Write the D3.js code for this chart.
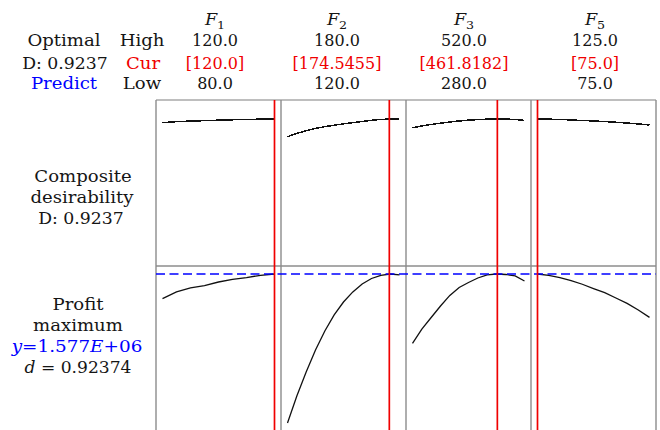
<!DOCTYPE html>
<html>
<head>
<meta charset="utf-8">
<script src="https://cdn.jsdelivr.net/npm/d3@7/dist/d3.min.js"></script>
<style>
  html, body { margin: 0; padding: 0; background: #fff; }
  svg { display: block; }
</style>
</head>
<body>
<svg id="chart" width="660" height="430"></svg>
<script>
// Factors and their settings
const factorNames = ["1", "2", "3", "5"];
const highs = [120.0, 180.0, 520.0, 125.0];
const lows = [80.0, 120.0, 280.0, 75.0];
const currents = [120.0, 174.5455, 461.8182, 75.0];

// Response summary
const compositeD = 0.9237;
const predictedY = 1577000;
const predictedLabel = "1.577";
const individualD = 0.92374;

// Factor levels used for the profile curves
const f1Levels = [80, 85, 90, 95, 100, 105, 110, 115, 120];
const f2Levels = [120, 125, 130, 135, 140, 145, 150, 155, 160, 165, 170, 175, 180];
const f3Levels = [280, 300, 320, 340, 360, 380, 400, 420, 440, 460, 480, 500, 520];
const f5Levels = [75, 80, 85, 90, 95, 100, 105, 110, 115, 120, 125];

// Composite desirability along each factor
const f1Desir = [0.8993, 0.9059, 0.9099, 0.9125, 0.9158, 0.9185, 0.9204, 0.9224, 0.9237];
const f2Desir = [0.8069, 0.8281, 0.8459, 0.8617, 0.8729, 0.8828, 0.8914, 0.8993, 0.9072, 0.9151, 0.9204, 0.9237, 0.9230];
const f3Desir = [0.8663, 0.8775, 0.8874, 0.8960, 0.9039, 0.9105, 0.9158, 0.9198, 0.9224, 0.9237, 0.9230, 0.9204, 0.9138];
const f5Desir = [0.9237, 0.9224, 0.9204, 0.9171, 0.9138, 0.9105, 0.9066, 0.9020, 0.8967, 0.8907, 0.8841];

// Predicted profit along each factor
const f1Profit = [1561600, 1565800, 1568300, 1569800, 1572000, 1573600, 1574800, 1576200, 1577000];
const f2Profit = [1483900, 1500800, 1515800, 1529500, 1541400, 1551400, 1559500, 1565800, 1570800, 1574200, 1576200, 1577000, 1576500];
const f3Profit = [1533700, 1542600, 1549800, 1557000, 1563600, 1568600, 1571700, 1574500, 1576400, 1577000, 1576700, 1575800, 1572600];
const f5Profit = [1577000, 1576100, 1574800, 1572900, 1570600, 1567900, 1565300, 1562000, 1558600, 1554500, 1549900];

const levels = [f1Levels, f2Levels, f3Levels, f5Levels];
const desirs = [f1Desir, f2Desir, f3Desir, f5Desir];
const profits = [f1Profit, f2Profit, f3Profit, f5Profit];

const svg = d3.select("#chart");

// Layout
const frameLeft = 156, frameRight = 656, frameTop = 100, frameMid = 266, frameBottom = 430;
const panelW = (frameRight - frameLeft) / 4;
const pad = 6.5;
const headerX = [215, 337, 464, 595];
const FONT = "'DejaVu Serif', serif";
const RED = "#f00000", BLUE = "#0000ff", GRAY = "#8c8c8c";

const xScales = highs.map((h, i) => {
  const x0 = frameLeft + i * panelW;
  return d3.scaleLinear().domain([lows[i], h]).range([x0 + pad, x0 + panelW - pad]);
});
const yDesir = d3.scaleLinear().domain([0, 1]).range([259, 107.4]);
const yProfit = d3.scaleLinear().domain([1450000, 1600000]).range([477.2, 237.2]);

// Text helper: words are set a little wider than figures
function label(x, y, parts, opts = {}) {
  const sx = opts.sx || 1.0;
  const t = svg.append("text")
    .attr("transform", `translate(${x},${y}) scale(${sx},1)`)
    .attr("text-anchor", "middle")
    .attr("font-family", FONT)
    .attr("font-size", opts.size || 16)
    .attr("fill", opts.color || "#151515");
  parts.forEach(p => {
    const s = t.append("tspan").text(p.t);
    if (p.italic) s.attr("font-style", "italic");
    if (p.sub) s.attr("font-size", 11.5).attr("dy", 4);
  });
  return t;
}
const WORD = 1.13;

// Header block
const rowY = [25, 46, 68.5, 89];
label(64, rowY[1], [{t: "Optimal"}], {sx: WORD});
label(65, rowY[2], [{t: "D: " + compositeD.toFixed(4)}], {sx: 1.08});
label(64, rowY[3], [{t: "Predict"}], {color: BLUE, sx: WORD});
label(142, rowY[1], [{t: "High"}], {sx: WORD});
label(143, rowY[2], [{t: "Cur"}], {color: RED, sx: WORD});
label(142, rowY[3], [{t: "Low"}], {sx: WORD});

const fmt = v => Number.isInteger(v) ? v.toFixed(1) : v.toFixed(4);
factorNames.forEach((n, i) => {
  label(headerX[i], rowY[0], [{t: "F", italic: true}, {t: n, sub: true}], {sx: 1.1});
  label(headerX[i], rowY[1], [{t: fmt(highs[i])}]);
  label(headerX[i], rowY[2], [{t: "[" + fmt(currents[i]) + "]"}], {color: RED});
  label(headerX[i], rowY[3], [{t: fmt(lows[i])}]);
});

// Row labels
label(83, 182, [{t: "Composite"}], {sx: WORD});
label(82, 203, [{t: "desirability"}], {sx: WORD});
label(81, 223.5, [{t: "D: " + compositeD.toFixed(4)}], {sx: 1.08});
label(78, 310, [{t: "Profit"}], {sx: WORD});
label(78, 331, [{t: "maximum"}], {sx: WORD});
label(77, 352, [{t: "y", italic: true}, {t: "=" + predictedLabel}, {t: "E", italic: true}, {t: "+06"}], {color: BLUE, sx: 1.15});
label(78, 373, [{t: "d", italic: true}, {t: " = " + individualD.toFixed(5)}], {sx: 1.07});

// Frame
const frame = svg.append("g").attr("stroke", GRAY).attr("stroke-width", 1.4).attr("fill", "none");
frame.append("line").attr("x1", frameLeft).attr("x2", frameRight).attr("y1", frameTop).attr("y2", frameTop).attr("stroke", "#a8a8a8");
frame.append("line").attr("x1", frameLeft).attr("x2", frameRight).attr("y1", frameMid).attr("y2", frameMid);
d3.range(5).forEach(i => {
  const x = frameLeft + i * panelW;
  frame.append("line").attr("x1", x).attr("x2", x).attr("y1", frameTop).attr("y2", frameBottom);
});

// Clip region for the profit row
svg.append("clipPath").attr("id", "lowRow")
  .append("rect").attr("x", frameLeft).attr("y", frameMid).attr("width", frameRight - frameLeft).attr("height", frameBottom - frameMid);

// Desirability curves
levels.forEach((lv, i) => {
  const line = d3.line().x(d => xScales[i](d[0])).y(d => yDesir(d[1]));
  svg.append("path")
    .datum(lv.map((v, k) => [v, desirs[i][k]]))
    .attr("d", line)
    .attr("fill", "none")
    .attr("stroke", "#111")
    .attr("stroke-width", 1.5)
    .attr("shape-rendering", "crispEdges");
});

// Profit curves
const lowG = svg.append("g").attr("clip-path", "url(#lowRow)");
levels.forEach((lv, i) => {
  const line = d3.line().x(d => xScales[i](d[0])).y(d => yProfit(d[1]));
  lowG.append("path")
    .datum(lv.map((v, k) => [v, profits[i][k]]))
    .attr("d", line)
    .attr("fill", "none")
    .attr("stroke", "#111")
    .attr("stroke-width", 1.3);
});

// Predicted response reference line
svg.append("line")
  .attr("x1", frameLeft).attr("x2", frameRight)
  .attr("y1", yProfit(predictedY)).attr("y2", yProfit(predictedY))
  .attr("stroke", BLUE).attr("stroke-width", 1.5)
  .attr("stroke-dasharray", "9,4.5");

// Current factor settings
currents.forEach((c, i) => {
  const x = xScales[i](c);
  svg.append("line")
    .attr("x1", x).attr("x2", x).attr("y1", frameTop).attr("y2", frameBottom)
    .attr("stroke", RED).attr("stroke-width", 1.7);
});
</script>
</body>
</html>
